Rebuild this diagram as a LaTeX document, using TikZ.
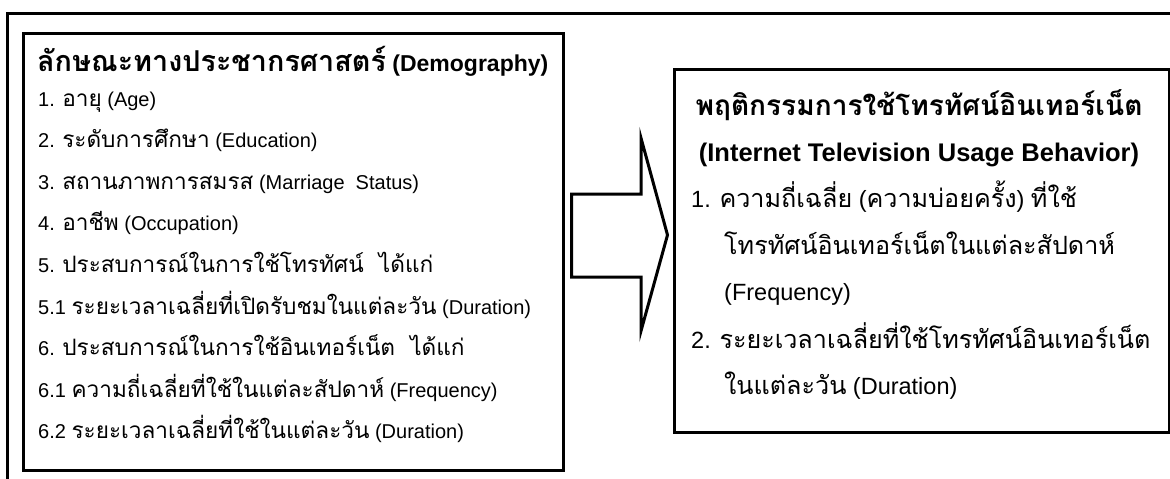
\documentclass[tikz,border=0pt]{standalone}
\usepackage{fontspec}
\setmainfont{Liberation Sans}
% Thai families, each sized against the Latin text it sits beside
\newfontfamily\tf[Script=Thai,Scale=1.13]{Loma}
\newfontfamily\tft[Script=Thai,Scale=1.25]{Loma}
\newfontfamily\tfr[Script=Thai,Scale=1.07]{Loma}
\newfontfamily\tfrt[Script=Thai,Scale=1.1]{Loma}

\begin{document}
\begin{tikzpicture}[x=1pt,y=-1pt,
  frameline/.style={line width=3pt},
  panel/.style={draw,line width=3.2pt,rectangle,inner sep=0pt,anchor=north west},
  blockarrow/.style={draw,line width=3pt,line join=miter,fill=white},
  head/.style={anchor=base west,inner sep=0pt,font=\fontsize{23}{28}\selectfont\bfseries},
  item/.style={anchor=base west,inner sep=0pt,font=\fontsize{20}{24}\selectfont},
  rhead/.style={anchor=base,inner sep=0pt,font=\fontsize{25.5}{30}\selectfont\bfseries},
  ritem/.style={anchor=base west,inner sep=0pt,font=\fontsize{23.5}{28}\selectfont}]
\useasboundingbox (0,0) rectangle (1170,479);
\clip (0,0) rectangle (1170,479);

% outer frame (only its top and left sides fall on the page)
\draw[frameline] (7.5,490) -- (7.5,13.5) -- (1180,13.5);

% the two panels
\node[panel,minimum width=540pt,minimum height=437.5pt] (demo) at (21.5,31.5) {};
\node[panel,minimum width=495pt,minimum height=363.5pt] (behav) at (672.5,67.5) {};

% left panel: demographic variables
\node[head] (dT) at (37,71) {{\tft ลักษณะทางประชากรศาสตร์} (Demography)};
\node[item] (d1) at (38,106) {1. {\tf อายุ} (Age)};
\node[item] (d2) at (38,147.6) {2. {\tf ระดับการศึกษา} (Education)};
\node[item] (d3) at (38,189.2) {3. {\tf สถานภาพการสมรส} (Marriage\ \ Status)};
\node[item] (d4) at (38,230.8) {4. {\tf อาชีพ} (Occupation)};
\node[item] (d5) at (38,272.4) {5. {\tf ประสบการณ์ในการใช้โทรทัศน์\ \ ได้แก่}};
\node[item] (d51) at (38,314) {5.1 {\tf ระยะเวลาเฉลี่ยที่เปิดรับชมในแต่ละวัน} (Duration)};
\node[item] (d6) at (38,355.6) {6. {\tf ประสบการณ์ในการใช้อินเทอร์เน็ต\ \ ได้แก่}};
\node[item] (d61) at (38,397.2) {6.1 {\tf ความถี่เฉลี่ยที่ใช้ในแต่ละสัปดาห์} (Frequency)};
\node[item] (d62) at (38,438.8) {6.2 {\tf ระยะเวลาเฉลี่ยที่ใช้ในแต่ละวัน} (Duration)};

% block arrow from the left panel to the right panel
\draw[blockarrow] ([xshift=7pt]demo.east |- 0,194) -- (641,194) -- (641,138)
  -- ([xshift=-5pt]behav.west |- 0,235) -- (641,331) -- (641,277)
  -- ([xshift=7pt]demo.east |- 0,277) -- cycle;

% right panel: usage behaviour
\node[rhead] (bT1) at (919,115) {\tfrt พฤติกรรมการใช้โทรทัศน์อินเทอร์เน็ต};
\node[rhead] (bT2) at (919,161) {(Internet Television Usage Behavior)};
\node[ritem] (b1) at (691,207) {1. {\tfr ความถี่เฉลี่ย} ({\tfr ความบ่อยครั้ง}) {\tfr ที่ใช้}};
\node[ritem] (b1a) at (724,254) {\tfr โทรทัศน์อินเทอร์เน็ตในแต่ละสัปดาห์};
\node[ritem] (b1b) at (724,300) {(Frequency)};
\node[ritem] (b2) at (691,348) {2. {\tfr ระยะเวลาเฉลี่ยที่ใช้โทรทัศน์อินเทอร์เน็ต}};
\node[ritem] (b2a) at (724,394) {{\tfr ในแต่ละวัน} (Duration)};
\end{tikzpicture}
\end{document}
